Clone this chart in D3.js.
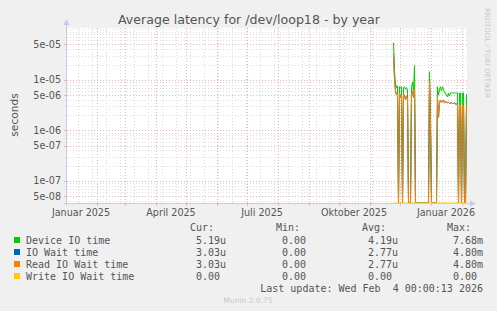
<!DOCTYPE html>
<html><head><meta charset="utf-8">
<script src="https://cdn.jsdelivr.net/npm/d3@7"></script>
<style>
html,body{margin:0;padding:0;background:#f0f0f0;}
svg{display:block;}
</style></head>
<body>
<svg id="c" width="497" height="311"></svg>
<script>
// ---- data ----
const title = "Average latency for /dev/loop18 - by year";
const yTickLabels = ["5e-05","1e-05","5e-06","1e-06","5e-07","1e-07","5e-08"];
const yTickValues = [5e-5,1e-5,5e-6,1e-6,5e-7,1e-7,5e-8];
const xTickLabels = ["Januar 2025","April 2025","Juli 2025","Oktober 2025","Januar 2026"];
const xTickDates = ["2025-01-16","2025-04-16","2025-07-16","2025-10-16","2026-01-16"];
const firstDay = "2025-11-24";
const deviceIO = [5.4e-5,1.5e-5,8.5e-6,7.0e-6,7.5e-6,0,7.3e-6,7.0e-6,7.3e-6,0,
  7.0e-6,7.3e-6,6.5e-6,7.0e-6,6.3e-6,0,0,0,7.0e-6,9.0e-6,
  6.0e-6,1.9e-5,0,0,0,0,0,0,0,0,
  0,0,0,0,0,0,1.45e-5,1.5e-6,0,0,
  0,0,0,0,7.3e-6,5.0e-6,6.5e-6,7.3e-6,6.0e-6,7.3e-6,
  6.5e-6,5.5e-6,5.5e-6,5.0e-6,4.6e-6,5.5e-6,4.8e-6,5.5e-6,5.5e-6,5.5e-6,
  5.5e-6,5.5e-6,5.5e-6,5.5e-6,5.5e-6,0,5.5e-6,5.5e-6,0,5.5e-6,
  5.5e-6,0,0,5.19e-6];
const readIO = [3.4e-5,1.0e-5,6.0e-6,5.0e-6,5.5e-6,0,5.5e-6,4.5e-6,5.0e-6,0,
  5.2e-6,5.0e-6,4.0e-6,4.8e-6,4.5e-6,0,0,0,5.0e-6,6.0e-6,
  4.5e-6,7.0e-6,0,0,0,0,0,0,0,0,
  0,0,0,0,0,0,9.0e-6,1.4e-6,0,0,
  0,0,0,0,4.5e-6,1.8e-6,3.5e-6,4.0e-6,3.6e-6,3.8e-6,
  4.0e-6,3.5e-6,3.6e-6,3.7e-6,3.5e-6,3.6e-6,3.4e-6,3.5e-6,3.5e-6,3.4e-6,
  3.4e-6,3.5e-6,3.3e-6,3.3e-6,3.3e-6,0,3.2e-6,3.2e-6,0,3.1e-6,
  3.1e-6,0,0,3.03e-6];
const ioWait = readIO.slice();
const writeIO = readIO.map(() => 0);
const seriesNames = ["Device IO time","IO Wait time","Read IO Wait time","Write IO Wait time"];
const seriesColors = ["#00cc00","#0066b3","#ff8000","#ffcc00"];
const legendCur = ["5.19u","3.03u","3.03u","0.00"];
const legendMin = ["0.00","0.00","0.00","0.00"];
const legendAvg = ["4.19u","2.77u","2.77u","0.00"];
const legendMax = ["7.68m","4.80m","4.80m","0.00"];
const lastUpdate = "Last update: Wed Feb  4 00:00:13 2026";
const version = "Munin 2.0.75";

// ---- layout ----
const svg = d3.select("#c");
const L = 67, R = 467, T = 28, B = 203;
const parse = d3.utcParse("%Y-%m-%d");
const x = d3.scaleUtc().domain([parse("2025-01-02"), parse("2026-02-06")]).range([L, R]);
const y = d3.scaleLog().domain([3.66e-8, 1.06e-4]).range([B, T]);

svg.append("rect").attr("x",L).attr("y",T).attr("width",R-L).attr("height",B-T).attr("fill","#fff");

const minorC = "#dcdcdc", majorC = "#f0b4b4";
const g = svg.append("g");
// minor horizontal grid
const minorY = [];
for (let e = -8; e <= -4; e++) for (let m = 1; m <= 9; m++) {
  const v = m * Math.pow(10, e);
  if (v >= y.domain()[0] && v <= y.domain()[1] && !yTickValues.some(t => Math.abs(t - v) / v < 1e-6)) minorY.push(v);
}
g.selectAll(".hmin").data(minorY).join("line")
  .attr("x1",L).attr("x2",R).attr("y1",d=>Math.round(y(d))+0.5).attr("y2",d=>Math.round(y(d))+0.5)
  .attr("stroke",minorC).attr("stroke-width",1).attr("stroke-dasharray","1,2");
// minor vertical grid (every 2 weeks)
const minorX = d3.range(0, 40).map(i => d3.utcDay.offset(parse("2025-01-13"), i*14)).filter(d => d < x.domain()[1]);
g.selectAll(".vmin").data(minorX).join("line")
  .attr("y1",T).attr("y2",B).attr("x1",d=>Math.round(x(d))+0.5).attr("x2",d=>Math.round(x(d))+0.5)
  .attr("stroke",minorC).attr("stroke-width",1).attr("stroke-dasharray","1,2");
// major horizontal
g.selectAll(".hmaj").data(yTickValues).join("line")
  .attr("x1",L).attr("x2",R).attr("y1",d=>Math.round(y(d))+0.5).attr("y2",d=>Math.round(y(d))+0.5)
  .attr("stroke",majorC).attr("stroke-width",1).attr("stroke-dasharray","1,2");
// major vertical (month starts)
const months = d3.utcMonth.range(parse("2025-02-01"), x.domain()[1]);
g.selectAll(".vmaj").data(months).join("line")
  .attr("y1",T).attr("y2",B).attr("x1",d=>Math.round(x(d))+0.5).attr("x2",d=>Math.round(x(d))+0.5)
  .attr("stroke",majorC).attr("stroke-width",1).attr("stroke-dasharray","1,2");

// series
const day0 = parse(firstDay);
function draw(vals, color) {
  const line = d3.line()
    .x((d,i) => Math.round(x(d3.utcDay.offset(day0, i))) + 0.5)
    .y(d => d > 0 ? y(d) : B);
  svg.append("path").attr("d", line(vals)).attr("fill","none").attr("stroke",color).attr("stroke-width",1);
}
draw(deviceIO, seriesColors[0]);
draw(ioWait, seriesColors[1]);
draw(readIO, seriesColors[2]);
draw(writeIO, seriesColors[3]);

// axes
const axc = "#c8c8f0";
svg.append("line").attr("x1",L-0.5).attr("x2",L-0.5).attr("y1",B+3).attr("y2",T-3).attr("stroke",axc);
svg.append("line").attr("x1",L-3).attr("x2",R+3).attr("y1",B+0.5).attr("y2",B+0.5).attr("stroke",axc);
svg.append("path").attr("d",`M${L-3.5},${T-3}L${L+2.5},${T-3}L${L-0.5},${T-9}Z`).attr("fill",axc);
svg.append("path").attr("d",`M${R+3},${B-2.5}L${R+3},${B+3.5}L${R+9},${B+0.5}Z`).attr("fill",axc);
svg.selectAll(".ytm").data(yTickValues).join("line")
  .attr("x1",L-3).attr("x2",L+1).attr("y1",d=>Math.round(y(d))+0.5).attr("y2",d=>Math.round(y(d))+0.5).attr("stroke",majorC);
svg.selectAll(".xtm").data(months).join("line")
  .attr("y1",B-1).attr("y2",B+3).attr("x1",d=>Math.round(x(d))+0.5).attr("x2",d=>Math.round(x(d))+0.5).attr("stroke",majorC);

const font = "'DejaVu Sans', sans-serif";
const mono = "'DejaVu Sans Mono', monospace";
svg.selectAll(".ylab").data(yTickValues).join("text")
  .attr("x",61).attr("y",d=>y(d)+3.5).attr("text-anchor","end")
  .attr("font-family",font).attr("font-size",9.6).attr("fill","#555")
  .text((d,i)=>yTickLabels[i]);
svg.selectAll(".xlab").data(xTickDates).join("text")
  .attr("x",d=>x(parse(d))).attr("y",216).attr("text-anchor","middle")
  .attr("font-family",font).attr("font-size",9.6).attr("fill","#555")
  .text((d,i)=>xTickLabels[i]);

svg.append("text").attr("x",249).attr("y",24).attr("text-anchor","middle")
  .attr("font-family",font).attr("font-size",12.6).attr("fill","#555").text(title);
svg.append("text").attr("transform","translate(18,115) rotate(-90)").attr("text-anchor","middle")
  .attr("font-family",font).attr("font-size",10.6).attr("fill","#555").text("seconds");
svg.append("text").attr("transform","translate(485,53) rotate(90)").attr("text-anchor","middle")
  .attr("font-family",font).attr("font-size",7).attr("fill","#c8c8c8").text("RRDTOOL / TOBI OETIKER");

// legend
const cols = [196, 282, 368, 453];
const heads = ["Cur:","Min:","Avg:","Max:"];
heads.forEach((h,i)=>svg.append("text").attr("x",cols[i]-6).attr("y",231)
  .attr("font-family",mono).attr("font-size",10).attr("fill","#555").text(h));
const rowsY = [244,256,268,280];
seriesNames.forEach((n,i)=>{
  svg.append("rect").attr("x",14).attr("y",rowsY[i]-7).attr("width",6).attr("height",6).attr("fill",seriesColors[i]);
  svg.append("text").attr("x",26).attr("y",rowsY[i]).attr("font-family",mono).attr("font-size",10).attr("fill","#555").text(n);
  [legendCur,legendMin,legendAvg,legendMax].forEach((arr,j)=>{
    svg.append("text").attr("x",cols[j]).attr("y",rowsY[i]).attr("font-family",mono).attr("font-size",10).attr("fill","#555").text(arr[i]);
  });
});
svg.append("text").attr("x",483).attr("y",292).attr("text-anchor","end").attr("xml:space","preserve")
  .style("white-space","pre")
  .attr("font-family",mono).attr("font-size",10).attr("fill","#555").text(lastUpdate);
svg.append("text").attr("x",248).attr("y",303).attr("text-anchor","middle")
  .attr("font-family",font).attr("font-size",7.5).attr("fill","#c8c8c8").text(version);
</script>
</body></html>
